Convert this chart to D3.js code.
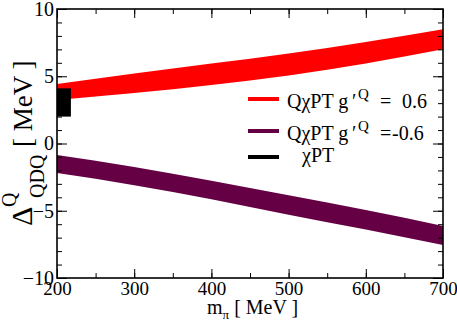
<!DOCTYPE html>
<html>
<head>
<meta charset="utf-8">
<script src="https://cdn.jsdelivr.net/npm/d3@7"></script>
<style>
  body { margin: 0; background: #fff; }
  svg text { font-family: "Liberation Serif", "Times New Roman", Times, serif; fill: #000; }
</style>
</head>
<body>
<div id="chart"></div>
<script>
// m_pi values (MeV) where the bands are sampled
const mPi = [200, 300, 400, 500, 600, 700]
// g'Q = 0.6 band
const redUpper = [4.42, 5.2, 5.95, 6.7, 7.55, 8.5]
const redLower = [3.23, 3.75, 4.35, 5.05, 5.95, 7.0]
// g'Q = -0.6 band
const purpleUpper = [-0.86, -1.75, -2.77, -3.85, -4.95, -6.13]
const purpleLower = [-2.2, -3.1, -4.15, -5.3, -6.4, -7.55]
// chiPT box
const chiX = [200, 218]
const chiY = [2.0, 4.1]

const xTicks = [200, 300, 400, 500, 600, 700]
const yTicks = [-10, -5, 0, 5, 10]

const legendItems = [
  { color: "#ff0000", label: "QχPT g", eq: true, val: "0.6" },
  { color: "#660044", label: "QχPT g", eq: true, val: "-0.6" },
  { color: "#000000", label: "χPT", eq: false, val: null }
]

const SERIF = '"Liberation Serif", "Times New Roman", Times, serif'
const MARGIN = { TOP: 9, BOTTOM: 43, LEFT: 57, RIGHT: 14 }
const W = 457, H = 321
const WIDTH = W - MARGIN.LEFT - MARGIN.RIGHT
const HEIGHT = H - MARGIN.TOP - MARGIN.BOTTOM

const svg = d3.select("#chart").append("svg")
  .attr("width", W).attr("height", H)

const g = svg.append("g")
  .attr("transform", `translate(${MARGIN.LEFT}, ${MARGIN.TOP})`)

const x = d3.scaleLinear().domain([200, 700]).range([0, WIDTH])
const y = d3.scaleLinear().domain([-10, 10]).range([HEIGHT, 0])

g.append("clipPath").attr("id", "clip")
  .append("rect").attr("width", WIDTH).attr("height", HEIGHT)

const area = (up, lo) => d3.area()
  .x((d, i) => x(mPi[i]))
  .y0((d, i) => y(lo[i]))
  .y1((d, i) => y(up[i]))
  .curve(d3.curveMonotoneX)(mPi)

const plot = g.append("g").attr("clip-path", "url(#clip)")
plot.append("path").attr("d", area(redUpper, redLower)).attr("fill", "#ff0000")
plot.append("path").attr("d", area(purpleUpper, purpleLower)).attr("fill", "#660044")
plot.append("rect")
  .attr("x", x(chiX[0])).attr("width", x(chiX[1]) - x(chiX[0]))
  .attr("y", y(chiY[1])).attr("height", y(chiY[0]) - y(chiY[1]))
  .attr("fill", "#000")

// axes, ticks pointing inward on all four sides
const xMinor = d3.range(200, 701, 50)
const yMinor = d3.range(-10, 10.1, 1)

function styleAxis(sel) {
  sel.attr("font-family", SERIF)
  sel.select(".domain").remove()
  sel.selectAll("line").attr("stroke", "#000").attr("stroke-width", 1)
  sel.selectAll("text").style("font-family", SERIF)
}

g.append("g").attr("transform", `translate(0,${HEIGHT})`)
  .call(d3.axisBottom(x).tickValues(xMinor).tickSize(-5).tickFormat(""))
  .call(styleAxis)
g.append("g").attr("transform", `translate(0,${HEIGHT})`)
  .call(d3.axisBottom(x).tickValues(xTicks).tickSize(-9).tickPadding(3).tickFormat(d3.format("d")))
  .call(styleAxis)
  .selectAll("text").attr("font-size", 19)

g.append("g")
  .call(d3.axisTop(x).tickValues(xMinor).tickSize(-5).tickFormat(""))
  .call(styleAxis)
g.append("g")
  .call(d3.axisTop(x).tickValues(xTicks).tickSize(-9).tickFormat(""))
  .call(styleAxis)

g.append("g")
  .call(d3.axisLeft(y).tickValues(yMinor).tickSize(-5).tickFormat(""))
  .call(styleAxis)
g.append("g")
  .call(d3.axisLeft(y).tickValues(yTicks).tickSize(-10).tickPadding(3).tickFormat(d3.format("d")))
  .call(styleAxis)
  .selectAll("text").attr("font-size", 20)

g.append("g").attr("transform", `translate(${WIDTH},0)`)
  .call(d3.axisRight(y).tickValues(yMinor).tickSize(-5).tickFormat(""))
  .call(styleAxis)
g.append("g").attr("transform", `translate(${WIDTH},0)`)
  .call(d3.axisRight(y).tickValues(yTicks).tickSize(-10).tickFormat(""))
  .call(styleAxis)

g.append("rect").attr("width", WIDTH).attr("height", HEIGHT)
  .attr("fill", "none").attr("stroke", "#000").attr("stroke-width", 1.6)

// x axis title
const xt = svg.append("text").attr("x", 207).attr("y", 314).attr("font-size", 20)
xt.append("tspan").text("m")
xt.append("tspan").text("π").attr("font-size", 13).attr("dy", 5)
xt.append("tspan").text(" [ MeV ]").attr("dy", -5)

// y axis title, rotated
const yt = svg.append("g").attr("transform", "translate(32,226) rotate(-90)")
yt.append("text").attr("x", 0).attr("y", 0).attr("font-size", 30).text("Δ")
yt.append("text").attr("x", 19).attr("y", -16).attr("font-size", 20).text("Q")
yt.append("text").attr("x", 28).attr("y", 12).attr("font-size", 20).text("QDQ")
yt.append("text").attr("x", 79).attr("y", 0).attr("font-size", 27).text("[ MeV ]")

// legend
const rowY = [99, 131, 157]
const legend = svg.append("g").attr("transform", "translate(248,0)")
legendItems.forEach((d, i) => {
  const row = legend.append("g").attr("transform", `translate(0,${rowY[i]})`)
  row.append("line").attr("x1", 0).attr("x2", 31).attr("y1", 0).attr("y2", 0)
    .attr("stroke", d.color).attr("stroke-width", 4)
  if (d.eq) {
    row.append("text").attr("x", 39).attr("y", 9).attr("font-size", 20).text(d.label)
    row.append("text").attr("x", 104).attr("y", 9).attr("font-size", 20).text("′")
    row.append("text").attr("x", 110).attr("y", 0).attr("font-size", 15).text("Q")
    row.append("text").attr("x", 132).attr("y", 9).attr("font-size", 20).text("=")
    row.append("text").attr("x", d.val.startsWith("-") ? 144 : 154).attr("y", 9)
      .attr("font-size", 20).text(d.val)
  } else {
    row.append("text").attr("x", 54).attr("y", 5).attr("font-size", 20).text(d.label)
  }
})
</script>
</body>
</html>
